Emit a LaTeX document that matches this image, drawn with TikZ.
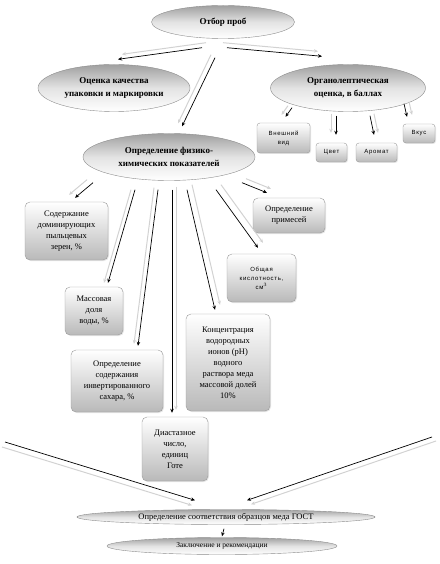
\documentclass[tikz,border=0pt]{standalone}
\usepackage{fontspec}
\setmainfont{Liberation Serif}
\setsansfont{Liberation Sans}
\usetikzlibrary{arrows.meta, shapes.geometric, shadows}
\definecolor{rimgray}{HTML}{8C8C8C}
\definecolor{boxedge}{HTML}{9A9A9A}
\definecolor{ghostgray}{HTML}{D2D2D2}
\tikzset{
  oval/.style={ellipse, draw=rimgray, thin, top color=gray!75, bottom color=white,
               middle color=gray!22, inner sep=0pt, align=center,
               font=\bfseries\fontsize{9}{13}\selectfont},
  flat/.style={oval, font=\fontsize{8.5}{9}\selectfont},
  card/.style={draw=boxedge, rounded corners=5pt, top color=white, bottom color=gray!55,
               align=center, inner sep=2pt, font=\fontsize{8.5}{11}\selectfont,
               drop shadow={shadow xshift=1pt, shadow yshift=-1pt, opacity=0.2}},
  tag/.style={card, rounded corners=3pt,
              font=\sffamily\fontsize{6}{9}\selectfont\addfontfeature{LetterSpace=12}},
  flow/.style={-{Stealth[length=4pt, width=3.5pt]}, line width=0.7pt, draw=black},
  ghost/.style={-{Stealth[length=4pt, width=3.5pt]}, line width=1pt, draw=ghostgray},
}
\newcommand{\twin}[3]{%
  \draw[ghost, transform canvas={shift={#3}}] #1 -- #2;
  \draw[flow] #1 -- #2;}

\begin{document}
\begin{tikzpicture}[x=1pt, y=-1pt]
  \useasboundingbox (0,0) rectangle (439,564);
  % ovals
  \node[oval, minimum width=143, minimum height=33] (sample) at (223,22) {Отбор проб};
  \node[oval, minimum width=152, minimum height=47] (pack) at (114,88) {Оценка качества\\упаковки и маркировки};
  \node[oval, minimum width=155, minimum height=47] (organo) at (348,88) {Органолептическая\\оценка, в баллах};
  \node[oval, minimum width=172, minimum height=47] (phys) at (169,157) {Определение физико-\\химических показателей};
  \node[flat, minimum width=298, minimum height=15] (gost) at (226,517) {Определение соответствия образцов меда ГОСТ};
  \node[flat, font=\fontsize{7.5}{9}\selectfont, minimum width=230, minimum height=17] (concl) at (222,546) {Заключение и рекомендации};
  % organoleptic tags
  \node[tag, minimum width=53, minimum height=30] (look) at (283.5,138) {Внешний\\вид};
  \node[tag, minimum width=31, minimum height=19] (colour) at (331.5,152.5) {Цвет};
  \node[tag, minimum width=41, minimum height=19] (aroma) at (376.5,152.5) {Аромат};
  \node[tag, minimum width=32, minimum height=19] (taste) at (419,133.5) {Вкус};
  % physico-chemical cards
  \node[card, minimum width=83, minimum height=58] (pollen) at (66.5,231) {Содержание\\доминирующих\\пыльцевых\\зерен, \%};
  \node[card, minimum width=72, minimum height=35] (impur) at (289,215.5) {Определение\\примесей};
  \node[tag, rounded corners=5pt, minimum width=69, minimum height=48] (acid) at (261.5,278) {Общая\\кислотность,\\см$^3$};
  \node[card, minimum width=58, minimum height=48] (water) at (94,311) {Массовая\\доля\\воды, \%};
  \node[card, minimum width=92, minimum height=62] (sugar) at (117,381) {Определение\\содержания\\инвертированного\\сахара, \%};
  \node[card, minimum width=84, minimum height=97] (ph) at (228,362.5) {Концентрация\\водородных\\ионов (pH)\\водного\\раствора меда\\массовой долей\\10\%};
  \node[card, minimum width=66, minimum height=64] (diast) at (175,449) {Диастазное\\число,\\единиц\\Готе};
  \coordinate (inL) at (5,442);
  \coordinate (inR) at (432,437);

  \twin{([shift={(-21,9)}]sample.south)}{([shift={(4,-5)}]pack.north)}{(4,-5)}
  \twin{([shift={(4,9)}]sample.south)}{([shift={(-26,-8)}]organo.north)}{(-4,-5)}
  \twin{([shift={(-8,19)}]sample.south)}{([shift={(13,-7)}]phys.north)}{(-4,-3)}

  \twin{([shift={(-56,-4)}]organo.south)}{([shift={(2,-6)}]look.north)}{(-4,-2)}
  \twin{([shift={(-12,4)}]organo.south)}{([shift={(4.5,-8)}]colour.north)}{(-5,-2)}
  \twin{([shift={(22,4)}]organo.south)}{([shift={(-2.5,-8)}]aroma.north)}{(4,-2)}
  \twin{([shift={(56,-8)}]organo.south)}{([shift={(-12,-7)}]taste.north)}{(5,-2)}

  \twin{([shift={(-76,2)}]phys.south)}{([shift={(8.5,-4)}]pollen.north)}{(-6,-3)}
  \twin{([shift={(-34,9)}]phys.south)}{([shift={(14,-4)}]water.north)}{(-4,0)}
  \twin{([shift={(-11,9)}]phys.south)}{([shift={(21,-4)}]sugar.north)}{(-4,-2)}
  \twin{([shift={(3,9)}]phys.south)}{([shift={(-3,-4)}]diast.north)}{(4,-3)}
  \twin{([shift={(18,9)}]phys.south)}{([shift={(-13,-4)}]ph.north)}{(5,-5)}
  \twin{([shift={(47,9)}]phys.south)}{([shift={(-3.5,-6)}]acid.north)}{(5,-5)}
  \twin{([shift={(73,2)}]phys.south)}{([shift={(-22,-5)}]impur.north)}{(4,-4)}

  \twin{(inL)}{([shift={(-31,-9)}]gost.north)}{(-3,5)}
  \twin{(inR)}{([shift={(21,-9)}]gost.north)}{(4,4)}
  \draw[flow] ([shift={(-2,4)}]gost.south) -- ([shift={(0,-1)}]concl.north);
\end{tikzpicture}
\end{document}
